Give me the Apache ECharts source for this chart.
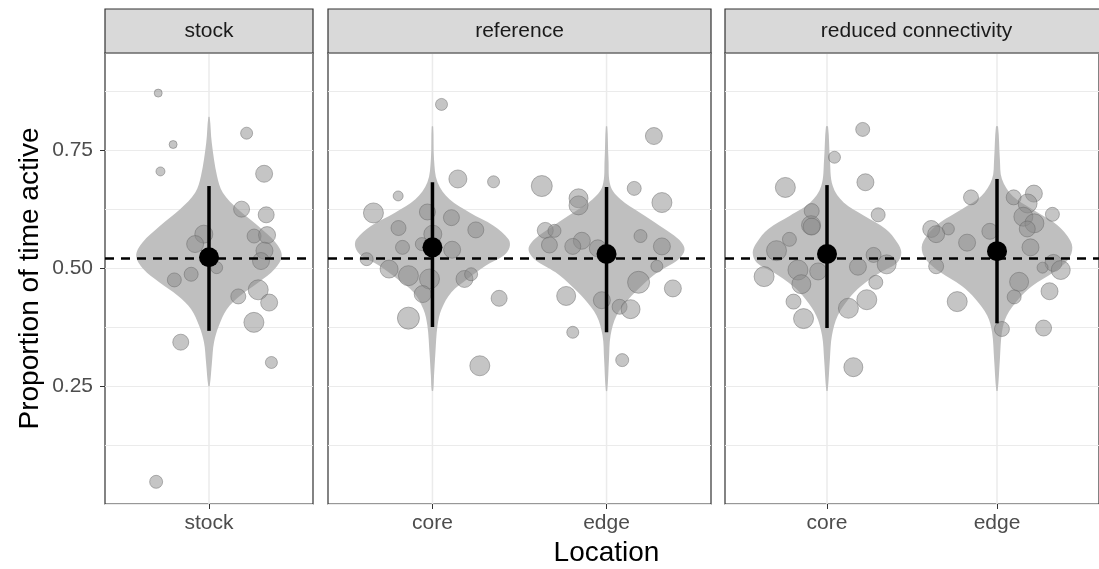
<!DOCTYPE html>
<html>
<head>
<meta charset="utf-8">
<script src="https://cdn.jsdelivr.net/npm/echarts@6/dist/echarts.min.js"></script>
<style>
html, body { margin: 0; padding: 0; background: #fff; }
#main { width: 1099px; height: 569px; }
</style>
</head>
<body>
<div id="main"></div>
<script>
// 面板与分类
var panels = ['stock', 'reference', 'reduced connectivity'];
var locations = [['stock'], ['core', 'edge'], ['core', 'edge']];
var yTicks = [0.25, 0.5, 0.75];
var refLine = 0.523;

// 均值与区间
var meanValues = [[0.523], [0.544, 0.530], [0.530, 0.536]];
var lowerValues = [[0.367], [0.375, 0.364], [0.373, 0.383]];
var upperValues = [[0.674], [0.682, 0.672], [0.676, 0.689]];

// 散点: [横向抖动, 数值, 点大小]
var pointsStock = [
    [-0.293, 0.871, 8], [0.217, 0.786, 12], [-0.207, 0.762, 8], [-0.28, 0.705, 9], [0.318, 0.70, 17],
    [0.188, 0.625, 16], [0.33, 0.613, 16], [-0.03, 0.572, 18], [-0.08, 0.551, 17], [0.26, 0.568, 14],
    [0.335, 0.57, 17], [0.32, 0.537, 17], [0.30, 0.515, 17], [0.044, 0.501, 12], [-0.103, 0.487, 14],
    [-0.20, 0.475, 14], [0.169, 0.44, 15], [0.284, 0.454, 20], [0.347, 0.427, 17], [0.259, 0.385, 20],
    [-0.163, 0.343, 16], [0.36, 0.30, 12], [-0.305, 0.047, 13]
];
var pointsRefCore = [
    [0.052, 0.847, 12], [0.146, 0.689, 18], [0.351, 0.683, 12], [-0.197, 0.653, 10], [-0.339, 0.617, 20],
    [-0.029, 0.619, 16], [0.109, 0.607, 16], [-0.195, 0.585, 15], [0.249, 0.581, 16], [0.002, 0.572, 18],
    [-0.172, 0.544, 14], [-0.061, 0.551, 13], [0.113, 0.539, 17], [-0.378, 0.519, 13], [-0.249, 0.498, 18],
    [-0.138, 0.484, 20], [-0.017, 0.477, 20], [0.184, 0.477, 17], [0.222, 0.487, 13], [-0.056, 0.445, 17],
    [0.383, 0.436, 16], [-0.138, 0.394, 22], [0.272, 0.293, 20]
];
var pointsRefEdge = [
    [0.272, 0.78, 17], [-0.372, 0.674, 21], [0.159, 0.669, 14], [-0.161, 0.648, 19], [-0.161, 0.633, 19],
    [0.318, 0.639, 20], [-0.352, 0.58, 16], [-0.299, 0.579, 13], [0.195, 0.568, 13], [-0.142, 0.558, 17],
    [-0.328, 0.549, 16], [-0.194, 0.546, 16], [-0.05, 0.542, 17], [0.318, 0.546, 17], [0.289, 0.504, 12],
    [0.184, 0.47, 22], [0.381, 0.457, 17], [-0.232, 0.441, 19], [-0.027, 0.432, 17], [0.075, 0.418, 15],
    [0.138, 0.413, 19], [-0.194, 0.364, 12], [0.09, 0.305, 13]
];
var pointsRedCore = [
    [0.21, 0.794, 14], [0.044, 0.735, 12], [-0.245, 0.671, 20], [0.226, 0.682, 17], [-0.09, 0.621, 15],
    [-0.094, 0.591, 19], [-0.09, 0.588, 17], [0.301, 0.613, 14], [-0.221, 0.561, 14], [-0.297, 0.537, 20],
    [0.274, 0.528, 15], [0.351, 0.508, 19], [0.182, 0.503, 17], [-0.171, 0.496, 20], [-0.052, 0.493, 17],
    [-0.37, 0.482, 20], [-0.151, 0.466, 19], [0.287, 0.47, 14], [-0.197, 0.429, 15], [0.234, 0.433, 20],
    [0.126, 0.415, 20], [-0.138, 0.393, 20], [0.155, 0.29, 19]
];
var pointsRedEdge = [
    [-0.153, 0.65, 15], [0.098, 0.65, 15], [0.217, 0.658, 17], [0.18, 0.637, 19], [0.326, 0.614, 14],
    [0.155, 0.609, 19], [0.22, 0.595, 19], [-0.387, 0.583, 17], [-0.286, 0.583, 12], [-0.358, 0.572, 17],
    [-0.042, 0.578, 16], [0.178, 0.583, 16], [-0.176, 0.554, 17], [0.197, 0.544, 17], [-0.358, 0.504, 15],
    [0.332, 0.511, 17], [0.375, 0.496, 19], [0.268, 0.501, 11], [0.13, 0.471, 19], [0.309, 0.451, 17],
    [0.101, 0.439, 14], [-0.234, 0.429, 20], [0.029, 0.371, 15], [0.274, 0.373, 16]
];

// 小提琴轮廓: [数值, 半宽(分类单位)]
var violinStock = [
    [0.82, 0.004], [0.766, 0.016], [0.696, 0.046], [0.66, 0.08], [0.625, 0.167], [0.59, 0.282],
    [0.554, 0.385], [0.526, 0.42], [0.498, 0.379], [0.47, 0.287], [0.441, 0.178], [0.413, 0.103],
    [0.378, 0.057], [0.343, 0.029], [0.30, 0.017], [0.25, 0.004]
];
var violinRefCore = [
    [0.80, 0.004], [0.731, 0.009], [0.682, 0.029], [0.646, 0.098], [0.618, 0.213], [0.59, 0.351],
    [0.561, 0.437], [0.544, 0.443], [0.526, 0.408], [0.505, 0.305], [0.477, 0.201], [0.449, 0.109],
    [0.413, 0.052], [0.378, 0.029], [0.321, 0.017], [0.272, 0.009], [0.24, 0.004]
];
var violinRefEdge = [
    [0.80, 0.004], [0.731, 0.011], [0.674, 0.023], [0.646, 0.08], [0.618, 0.19], [0.59, 0.305],
    [0.561, 0.414], [0.54, 0.448], [0.519, 0.414], [0.491, 0.293], [0.462, 0.201], [0.434, 0.126],
    [0.399, 0.057], [0.357, 0.023], [0.307, 0.014], [0.24, 0.004]
];
var violinRedCore = [
    [0.80, 0.006], [0.731, 0.017], [0.674, 0.034], [0.639, 0.098], [0.611, 0.218], [0.583, 0.345],
    [0.554, 0.414], [0.533, 0.437], [0.512, 0.414], [0.491, 0.316], [0.462, 0.201], [0.434, 0.126],
    [0.399, 0.063], [0.357, 0.029], [0.307, 0.017], [0.24, 0.004]
];
var violinRedEdge = [
    [0.80, 0.006], [0.731, 0.017], [0.689, 0.029], [0.653, 0.092], [0.625, 0.207], [0.597, 0.333],
    [0.568, 0.414], [0.544, 0.443], [0.519, 0.42], [0.491, 0.333], [0.462, 0.207], [0.434, 0.126],
    [0.399, 0.057], [0.364, 0.029], [0.307, 0.017], [0.24, 0.004]
];

var groupPoints = [[pointsStock], [pointsRefCore, pointsRefEdge], [pointsRedCore, pointsRedEdge]];
var groupViolins = [[violinStock], [violinRefCore, violinRefEdge], [violinRedCore, violinRedEdge]];

// 布局
var fontFamily = '"Liberation Sans", Arial, sans-serif';
var plotTop = 53, plotBottom = 504;
var panelLeft = [105, 328, 725];
var panelWidth = [208, 383, 383];
var stripTop = 9, stripHeight = 44;
var yMax = 0.956;

var myChart = echarts.init(document.getElementById('main'));

var grids = [], xAxes = [], yAxes = [], series = [], graphics = [];

panels.forEach(function (name, i) {
    var cats = locations[i].map(function (c, k) { return k + 1; });

    grids.push({
        left: panelLeft[i], top: plotTop, width: panelWidth[i], height: plotBottom - plotTop,
        show: true, borderColor: '#333', borderWidth: 1.2, backgroundColor: 'transparent'
    });

    xAxes.push({
        gridIndex: i, type: 'value', min: 0.4, max: cats.length + 0.6,
        axisLine: { show: false },
        splitLine: { show: false },
        axisTick: { show: true, length: 5, customValues: cats, lineStyle: { color: '#333' } },
        axisLabel: {
            customValues: cats, color: '#4d4d4d', fontSize: 21, margin: 9, fontFamily: fontFamily,
            formatter: function (v) { return locations[i][Math.round(v) - 1]; }
        }
    });

    yAxes.push({
        gridIndex: i, type: 'value', position: 'left', min: 0, max: yMax, interval: 0.125,
        axisLine: { show: false }, axisTick: { show: false }, axisLabel: { show: false },
        splitLine: { show: true, lineStyle: { color: '#ebebeb', width: 1 } }
    });

    // 小提琴 + 竖向网格线
    series.push({
        type: 'custom', xAxisIndex: i, yAxisIndex: i, z: 1, silent: true,
        data: cats.map(function (c, k) { return [c, meanValues[i][k]]; }),
        renderItem: function (params, api) {
            var c = api.value(0);
            var shape = groupViolins[i][c - 1];
            var pts = [];
            shape.forEach(function (p) { pts.push(api.coord([c + p[1], p[0]])); });
            for (var j = shape.length - 1; j >= 0; j--) {
                pts.push(api.coord([c - shape[j][1], shape[j][0]]));
            }
            var top = api.coord([c, yMax]);
            var bottom = api.coord([c, 0]);
            return {
                type: 'group',
                children: [{
                    type: 'line',
                    shape: { x1: top[0], y1: top[1], x2: bottom[0], y2: bottom[1] },
                    style: { stroke: '#ebebeb', lineWidth: 1.5 }
                }, {
                    type: 'polygon',
                    shape: { points: pts, smooth: 0.35 },
                    style: { fill: '#bfbfbf' }
                }]
            };
        }
    });

    // 散点
    var pts = [];
    groupPoints[i].forEach(function (list, k) {
        list.forEach(function (p) { pts.push([k + 1 + p[0], p[1], p[2]]); });
    });
    series.push({
        type: 'scatter', xAxisIndex: i, yAxisIndex: i, z: 2, silent: true,
        data: pts,
        symbolSize: function (v) { return v[2]; },
        itemStyle: { color: 'rgba(140,140,140,0.5)', borderColor: 'rgba(100,100,100,0.45)', borderWidth: 1, opacity: 1 }
    });

    // 误差线
    series.push({
        type: 'custom', xAxisIndex: i, yAxisIndex: i, z: 3, silent: true,
        data: cats.map(function (c, k) { return [c, lowerValues[i][k], upperValues[i][k]]; }),
        encode: { x: 0, y: [1, 2] },
        renderItem: function (params, api) {
            var lo = api.coord([api.value(0), api.value(1)]);
            var hi = api.coord([api.value(0), api.value(2)]);
            return {
                type: 'line',
                shape: { x1: lo[0], y1: lo[1], x2: hi[0], y2: hi[1] },
                style: { stroke: '#000', lineWidth: 3.5 }
            };
        }
    });

    // 均值点 + 参考虚线
    series.push({
        type: 'scatter', xAxisIndex: i, yAxisIndex: i, z: 4, silent: true,
        data: cats.map(function (c, k) { return [c, meanValues[i][k]]; }),
        symbolSize: 20,
        itemStyle: { color: '#000', opacity: 1 },
        markLine: {
            silent: true, symbol: ['none', 'none'], label: { show: false },
            lineStyle: { color: '#000', type: [9, 7], width: 2.5, opacity: 1 },
            data: [{ yAxis: refLine }]
        }
    });

    // 分面标题条
    graphics.push({
        type: 'rect', z: 10,
        shape: { x: panelLeft[i], y: stripTop, width: panelWidth[i], height: stripHeight },
        style: { fill: '#d9d9d9', stroke: '#333', lineWidth: 1.2 }
    });
    graphics.push({
        type: 'text', z: 11,
        x: panelLeft[i] + panelWidth[i] / 2, y: stripTop + stripHeight / 2,
        style: {
            text: name, fill: '#1a1a1a', fontSize: 21, fontFamily: fontFamily,
            align: 'center', verticalAlign: 'middle'
        }
    });
});

// 左侧刻度标签
yAxes.push({
    gridIndex: 0, type: 'value', position: 'left', min: 0, max: yMax,
    axisLine: { show: false }, splitLine: { show: false },
    axisTick: { show: true, length: 5, customValues: yTicks, lineStyle: { color: '#333' } },
    axisLabel: {
        customValues: yTicks, color: '#4d4d4d', fontSize: 21, margin: 12, fontFamily: fontFamily,
        formatter: function (v) { return v.toFixed(2); }
    }
});

graphics.push({
    type: 'text', x: 30, y: (plotTop + plotBottom) / 2, rotation: Math.PI / 2,
    style: {
        text: 'Proportion of time active', fill: '#000', fontSize: 28, fontFamily: fontFamily,
        align: 'center', verticalAlign: 'middle'
    }
});
graphics.push({
    type: 'text', x: (panelLeft[0] + panelLeft[2] + panelWidth[2]) / 2, y: 553,
    style: {
        text: 'Location', fill: '#000', fontSize: 28, fontFamily: fontFamily,
        align: 'center', verticalAlign: 'middle'
    }
});

option = {
    animation: false,
    backgroundColor: '#fff',
    grid: grids,
    xAxis: xAxes,
    yAxis: yAxes,
    series: series,
    graphic: graphics
};

myChart.setOption(option);
window.addEventListener("resize", function () {
    myChart.resize();
});
</script>
</body>
</html>
